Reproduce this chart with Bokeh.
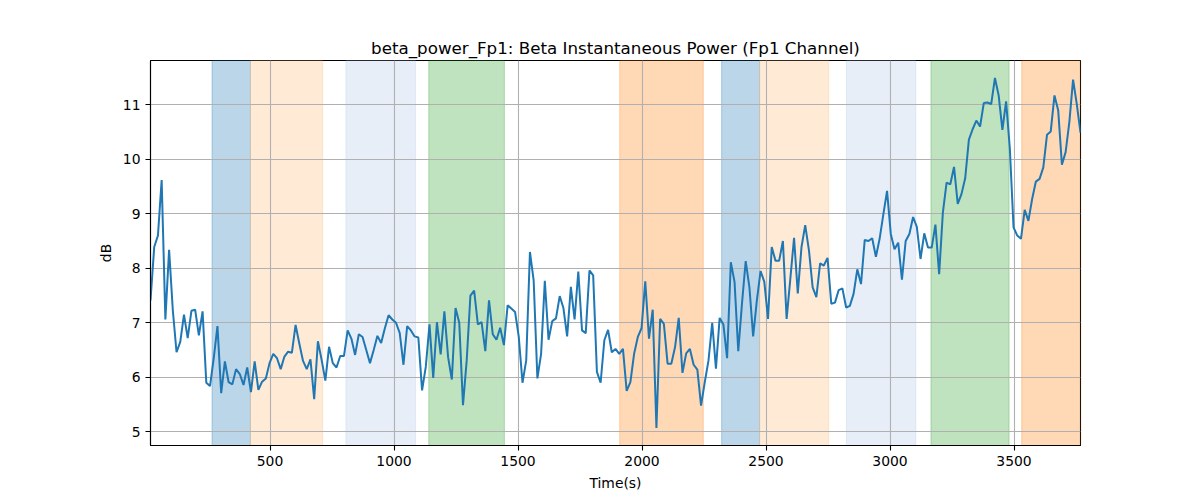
import numpy as np
from bokeh.plotting import figure
from bokeh.models import Range1d, BoxAnnotation
from bokeh.embed import file_html
from bokeh.resources import INLINE

# beta power (dB), one value every 15 s
t_start = 18
t_step = 15
beta_db = [
    7.41, 8.39, 8.60, 9.62, 7.06, 8.34, 7.23, 6.46, 6.65, 7.15,
    6.72, 7.22, 7.24, 6.77, 7.21, 5.90, 5.84, 6.35, 6.94, 5.71,
    6.29, 5.91, 5.87, 6.15, 6.06, 5.86, 6.18, 5.73, 6.29, 5.77,
    5.92, 5.98, 6.26, 6.43, 6.35, 6.15, 6.38, 6.47, 6.45, 6.96,
    6.62, 6.30, 6.15, 6.33, 5.60, 6.66, 6.32, 5.94, 6.56, 6.26,
    6.18, 6.39, 6.39, 6.86, 6.71, 6.41, 6.79, 6.74, 6.50, 6.26,
    6.50, 6.76, 6.63, 6.90, 7.14, 7.06, 7.00, 6.81, 6.23, 6.94,
    6.86, 6.75, 6.73, 5.76, 6.19, 6.97, 5.99, 7.01, 6.42, 7.21,
    6.37, 5.96, 7.27, 7.00, 5.49, 6.31, 7.50, 7.59, 6.97, 7.01,
    6.48, 7.41, 6.79, 6.69, 6.91, 6.59, 7.32, 7.26, 7.20, 6.74,
    5.90, 6.31, 8.30, 7.78, 5.98, 6.43, 7.77, 6.69, 7.03, 7.08,
    7.49, 7.27, 6.75, 7.66, 7.06, 7.94, 6.86, 6.81, 7.96, 7.87,
    6.10, 5.90, 6.68, 6.87, 6.46, 6.52, 6.43, 6.52, 5.75, 5.91,
    6.43, 6.74, 6.90, 7.76, 6.71, 7.24, 5.07, 7.07, 6.98, 6.25,
    6.25, 6.55, 7.09, 6.08, 6.44, 6.52, 6.23, 6.14, 5.48, 5.91,
    6.31, 7.00, 6.16, 7.09, 6.97, 6.35, 8.11, 7.75, 6.48, 7.35,
    8.13, 7.65, 6.75, 7.41, 7.95, 7.75, 7.07, 8.39, 8.14, 8.14,
    8.50, 7.07, 7.81, 8.56, 7.54, 8.39, 8.79, 8.33, 7.65, 7.47,
    8.09, 8.05, 8.19, 7.35, 7.37, 7.60, 7.63, 7.28, 7.31, 7.53,
    7.98, 7.71, 8.52, 8.50, 8.55, 8.21, 8.54, 8.99, 9.42, 8.63,
    8.35, 8.47, 7.79, 8.50, 8.63, 8.94, 8.76, 8.17, 8.64, 8.38,
    8.38, 8.80, 7.89, 9.02, 9.57, 9.54, 9.86, 9.18, 9.36, 9.65,
    10.36, 10.55, 10.71, 10.60, 11.03, 11.04, 11.01, 11.49, 11.17, 10.54,
    11.06, 10.20, 8.75, 8.60, 8.54, 9.07, 8.87, 9.27, 9.59, 9.64,
    9.85, 10.45, 10.51, 11.17, 10.90, 9.90, 10.13, 10.68, 11.46, 11.01,
    10.49,
]
times = t_start + t_step * np.arange(len(beta_db))

# shaded intervals
band_start = [266, 421, 806, 1140, 1910, 2321, 2474, 2824, 3165, 3531]
band_end = [421, 712, 1087, 1445, 2247, 2474, 2753, 3104, 3480, 3900]
band_color = ["#1f77b4", "#ffbb78", "#aec7e8", "#2ca02c", "#ff7f0e",
              "#1f77b4", "#ffbb78", "#aec7e8", "#2ca02c", "#ff7f0e"]

ymin, ymax = min(beta_db), max(beta_db)
pad = 0.05 * (ymax - ymin)

p = figure(width=1200, height=500, output_backend="svg", toolbar_location=None,
           title="beta_power_Fp1: Beta Instantaneous Power (Fp1 Channel)",
           x_axis_label="Time(s)", y_axis_label="dB",
           min_border_left=150, min_border_right=120,
           min_border_top=60, min_border_bottom=55)
p.x_range = Range1d(times[0], times[-1])
p.y_range = Range1d(ymin - pad, ymax + pad)

for s, e, c in zip(band_start, band_end, band_color):
    p.add_layout(BoxAnnotation(left=s, right=e, fill_color=c, fill_alpha=0.3,
                               line_color=c, line_alpha=0.3, line_width=1,
                               level="image"))

p.line(times, beta_db, line_color="#1f77b4", line_width=2)

p.title.align = "center"
p.title.text_font = "DejaVu Sans"
p.title.text_font_size = "16.7px"
p.title.text_font_style = "normal"
p.title.text_color = "black"
p.title.standoff = 6

p.xaxis.ticker = [500, 1000, 1500, 2000, 2500, 3000, 3500]
p.yaxis.ticker = [5, 6, 7, 8, 9, 10, 11]
for ax in (p.xaxis, p.yaxis):
    ax.axis_label_text_font = "DejaVu Sans"
    ax.axis_label_text_font_size = "13.9px"
    ax.axis_label_text_font_style = "normal"
    ax.axis_label_text_color = "black"
    ax.major_label_text_font = "DejaVu Sans"
    ax.major_label_text_font_size = "13.9px"
    ax.major_label_text_color = "black"
    ax.axis_line_color = "black"
    ax.axis_line_width = 1.1
    ax.major_tick_line_width = 1.1
    ax.major_tick_out = 5
    ax.major_tick_in = 0
    ax.minor_tick_line_color = None
    ax.major_label_standoff = 5
    ax.axis_label_standoff = 6

p.grid.grid_line_color = "#b0b0b0"
p.grid.grid_line_width = 1.1
p.outline_line_color = "black"
p.outline_line_width = 1.1
p.outline_line_alpha = 1

open("out.html", "w").write(file_html(p, INLINE))
